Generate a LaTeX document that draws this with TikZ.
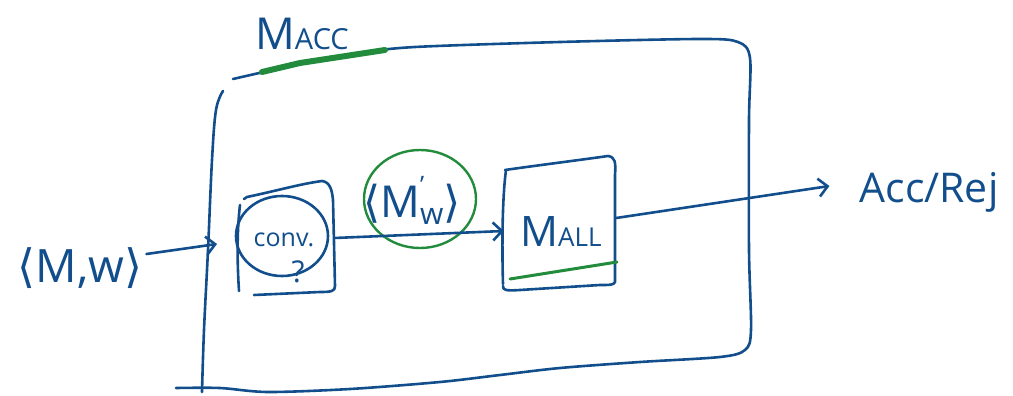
\documentclass[tikz,border=0pt]{standalone}
\usepackage{fontspec}
\setmainfont{Open Sans}
\newfontfamily\symfont{DejaVu Sans}
\usetikzlibrary{arrows.meta}
\definecolor{ink}{RGB}{18,78,140}
\definecolor{marker}{RGB}{34,140,60}
\newcommand{\lang}{{\symfont ⟨}}
\newcommand{\rang}{{\symfont ⟩}}
\tikzset{
  pen/.style={draw=ink, line width=2.6pt, line cap=round, line join=round},
  hl/.style={draw=marker, line width=3pt, line cap=round},
  arr/.style={pen, -{Straight Barb[length=9pt,width=18pt,line width=2.6pt]}},
  label/.style={text=ink, inner sep=0pt},
  anchorbox/.style={inner sep=0pt, draw=none}
}
\begin{document}
\begin{tikzpicture}[x=1pt,y=-1pt]
\useasboundingbox (0,0) rectangle (1013,396);

% outer machine M_ACC
\draw[pen] plot[smooth, tension=0.5] coordinates {(233,79) (300,64) (360,53) (415,47) (560,42) (700,39) (738,42) (750,58) (749,120) (749,250) (751,330) (745,350) (720,357) (640,362) (560,368) (500,375) (440,382) (350,389) (268,392) (220,388) (176,388)};
\draw[pen] plot[smooth, tension=0.6] coordinates {(223,91) (216,110) (212,160) (208,250) (204,330) (202,392)};
\draw[hl, line width=6pt] (262,72) -- (300,63) -- (385,50);
\node[label, font=\fontsize{44}{44}\selectfont] (macc) at (302,34) {M\fontsize{29}{29}\selectfont ACC};

% converter block
\draw[pen] (244,199) -- (247,197) .. controls (280,190) and (300,184) .. (322,181) .. controls (330,182) and (332,190) .. (333,200) -- (335,286) .. controls (335,291) and (332,292) .. (320,292) -- (254,295);
\draw[pen] (240,205) .. controls (237,230) and (237,260) .. (239,291);
\draw[pen] (282,236) ellipse[x radius=46, y radius=40];
\node[anchorbox, minimum width=96pt, minimum height=108pt] (conv) at (286,238) {};
\node[label, font=\fontsize{25}{25}\selectfont] (convtxt) at (284,240) {conv.};
\node[label, font=\fontsize{30}{30}\selectfont] (qm) at (298,272) {?};

% intermediate machine description
\draw[draw=marker, line width=2.4pt] (420,199) ellipse[x radius=56, y radius=49];
\node[label, font=\fontsize{44}{44}\selectfont] (mw) at (412,200) {\lang M\rlap{\raisebox{24pt}{\fontsize{24}{24}\selectfont '}}\raisebox{-7pt}{\fontsize{30}{30}\selectfont w}\rang};

% M_ALL block
\draw[pen] (505,170) .. controls (540,165) and (580,160) .. (608,156) .. controls (615,157) and (616,162) .. (615,175) -- (615,282) .. controls (614,285) and (610,285) .. (600,285) -- (520,290) .. controls (505,291) and (503,290) .. (503,286);
\draw[pen] (506,170) .. controls (502,200) and (502,250) .. (503,284);
\node[anchorbox, minimum width=112pt, minimum height=126pt] (mall) at (560,222) {};
\node[label, font=\fontsize{42}{42}\selectfont] (malltxt) at (561,232) {M\fontsize{26}{26}\selectfont ALL};
\draw[hl] (510,279) -- (617,262);

% input and output
\node[label, font=\fontsize{46}{46}\selectfont] (inp) at (80,268) {\lang M,w\rang};
\coordinate (entry) at (217,244);
\node[label, font=\fontsize{41}{41}\selectfont] (out) at (929,192) {Acc/Rej};

% connectors
\draw[arr] ([xshift=4pt,yshift=14pt]inp.east) -- (entry);
\draw[arr] (conv.east) -- ([yshift=-9pt]mall.west);
\draw[arr] ([yshift=4pt]mall.east) -- ([xshift=-30pt,yshift=6pt]out.west);
\end{tikzpicture}
\end{document}
